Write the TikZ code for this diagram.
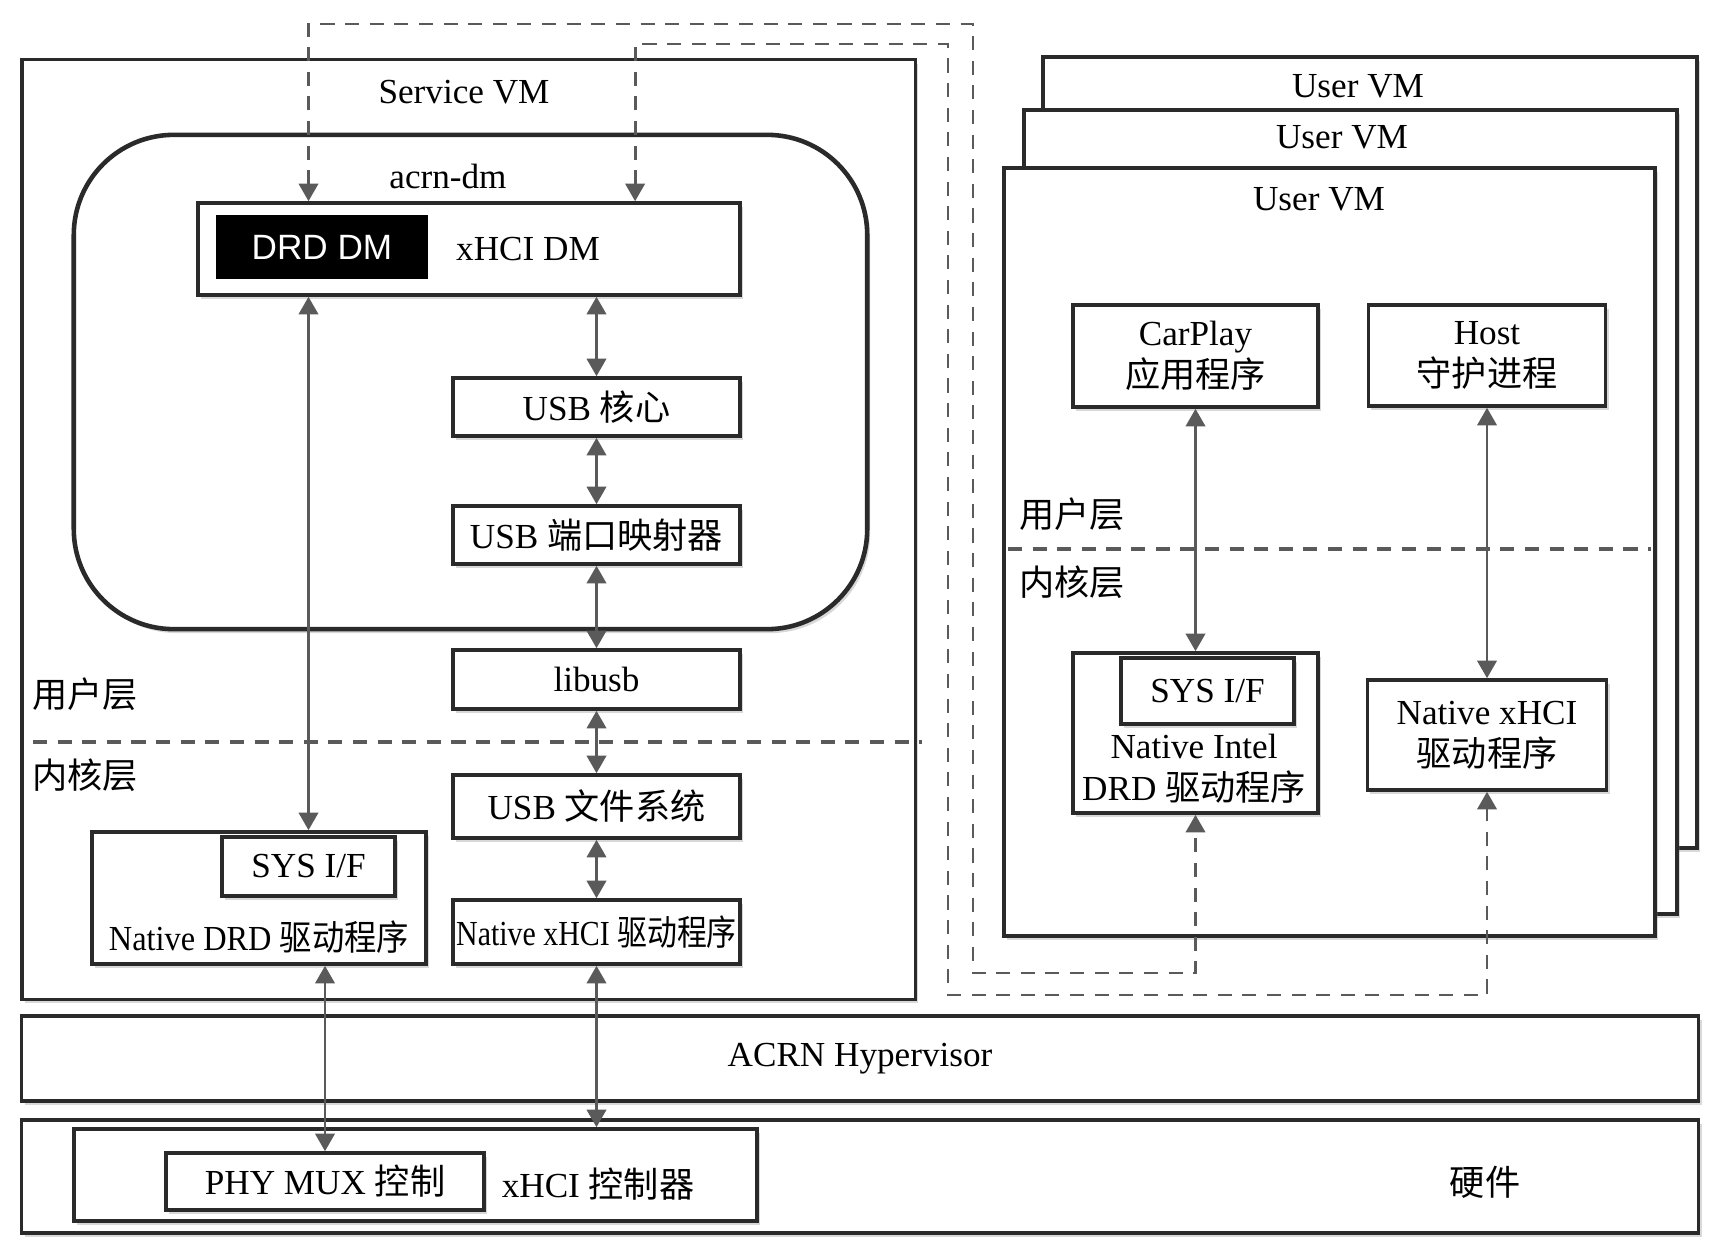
\documentclass[tikz,border=0pt]{standalone}
\usepackage{fontspec}
\setmainfont{Liberation Serif}
\newfontfamily\cjk{Noto Sans CJK SC}
\newfontfamily\sansfont{Liberation Sans}
\usepackage{xcolor}
\usepackage{graphicx}
\usepackage{tikz}
\usetikzlibrary{shapes, arrows, arrows.meta, positioning, shadows}

\definecolor{linegray}{HTML}{5A5A5A}
\definecolor{boxgray}{HTML}{2A2A2A}

\begin{document}
\begin{tikzpicture}[x=0.01cm, y=-0.01cm]
\tikzstyle{block} = [rectangle, draw=boxgray, line width=1pt, fill=white, inner sep=0pt, drop shadow={shadow xshift=0.03cm, shadow yshift=-0.04cm, opacity=0.3}]
\tikzstyle{arrow} = [linegray, line width=0.8pt, <->, >={Triangle[length=5pt, width=5.5pt]}]
\tikzstyle{dasharrow} = [linegray, line width=0.8pt, dash pattern=on 4pt off 3pt, <->, >={Triangle[length=5pt, width=5.5pt]}]
\tikzstyle{layerline} = [linegray, line width=1pt, dash pattern=on 4pt off 3pt]

\useasboundingbox (0,0) rectangle (1722,1255);

% Service VM
\node (svm) [block, minimum width=8.93cm, minimum height=9.39cm] at (468.5,529.5) {};
\node (svmtext) at (464,92) {Service VM};
\node (acrndm) [block, line width=1.3pt, rounded corners=1cm, minimum width=7.93cm, minimum height=4.94cm] at (470.5,382) {};
\node (dmtext) at (448,176) {acrn-dm};
\node (xhcidm) [block, minimum width=5.42cm, minimum height=0.92cm] at (469,249) {};
\node (drddm) [rectangle, fill=black, text=white, font=\sansfont, minimum width=2.12cm, minimum height=0.64cm] at (322,247) {DRD DM};
\node (xhcitext) at (528,249) {xHCI DM};
\node (core) [block, minimum width=2.87cm, minimum height=0.58cm] at (596.5,407) {USB {\cjk 核心}};
\node (portmap) [block, minimum width=2.87cm, minimum height=0.58cm] at (596.5,535) {USB {\cjk 端口映射器}};
\node (libusb) [block, minimum width=2.87cm, minimum height=0.59cm] at (596.5,679.5) {libusb};
\node (usbfs) [block, minimum width=2.87cm, minimum height=0.63cm] at (596.5,806.5) {USB {\cjk 文件系统}};
\node (nxhci) [block, minimum width=2.87cm, minimum height=0.64cm] at (596.5,932) {\scalebox{0.85}[1]{Native xHCI {\cjk 驱动程序}}};
\node (ndrd) [block, minimum width=3.34cm, minimum height=1.32cm] at (259,898) {};
\node (sysif) [block, minimum width=1.73cm, minimum height=0.59cm] at (308.5,866.5) {SYS I/F};
\node (ndrdtext) at (259,937) {\scalebox{0.92}[1]{Native DRD {\cjk 驱动程序}}};

\node (userl) at (85,694) {\cjk 用户层};
\node (kernl) at (85,775) {\cjk 内核层};
\coordinate (lsplitw) at (33,742);
\coordinate (lsplite) at (922,742);
\draw [layerline] (lsplitw) -- (lsplite);

% hypervisor and hardware
\node (hyp) [block, minimum width=16.76cm, minimum height=0.85cm] at (860,1058.5) {ACRN Hypervisor};
\node (hw) [block, minimum width=16.76cm, minimum height=1.13cm] at (860,1176.5) {};
\node (hwtext) at (1485,1182) {\cjk 硬件};
\node (xhcictl) [block, minimum width=6.83cm, minimum height=0.92cm] at (415.5,1175) {};
\node (phymux) [block, minimum width=3.18cm, minimum height=0.57cm] at (325,1181.5) {PHY MUX {\cjk 控制}};
\node (ctltext) at (598,1184) {xHCI {\cjk 控制器}};

% User VM stack
\node (uvmc) [block, minimum width=6.54cm, minimum height=7.91cm] at (1370,452.5) {};
\node (uvmctext) at (1358,86) {User VM};
\node (uvmb) [block, minimum width=6.53cm, minimum height=8.04cm] at (1350.5,512) {};
\node (uvmbtext) at (1342,137) {User VM};
\node (uvma) [block, minimum width=6.51cm, minimum height=7.68cm] at (1329.5,552) {};
\node (uvmatext) at (1319,199) {User VM};

\node (carplay) [block, align=center, minimum width=2.45cm, minimum height=1.02cm] at (1195.5,356) {CarPlay\\{\cjk 应用程序}};
\node (host) [block, align=center, minimum width=2.37cm, minimum height=1.01cm] at (1487,355.5) {Host\\{\cjk 守护进程}};
\node (userr) at (1072,514) {\cjk 用户层};
\node (kernr) at (1072,582) {\cjk 内核层};
\coordinate (rsplitw) at (1008,549);
\coordinate (rsplite) at (1651,549);
\draw [layerline] (rsplitw) -- (rsplite);
\node (nidrd) [block, minimum width=2.45cm, minimum height=1.60cm] at (1195.5,733) {};
\node (sysif2) [block, minimum width=1.73cm, minimum height=0.66cm] at (1207.5,691) {SYS I/F};
\node (nidrdtext) [align=center] at (1194,769) {Native Intel\\DRD {\cjk 驱动程序}};
\node (nxhci2) [block, align=center, minimum width=2.39cm, minimum height=1.10cm] at (1487,735) {Native xHCI\\{\cjk 驱动程序}};

% solid links
\draw [arrow] (xhcidm.south -| sysif.north) -- (ndrd.north -| sysif.north);
\draw [arrow] (ndrd.south -| phymux.north) -- (phymux.north);
\draw [arrow] (xhcidm.south -| core.north) -- (core.north);
\draw [arrow] (core.south) -- (portmap.north);
\draw [arrow] (portmap.south) -- (libusb.north);
\draw [arrow] (libusb.south) -- (usbfs.north);
\draw [arrow] (usbfs.south) -- (nxhci.north);
\draw [arrow] (nxhci.south) -- (xhcictl.north -| nxhci.south);
\draw [arrow] (carplay.south) -- (nidrd.north);
\draw [arrow] (host.south) -- (nxhci2.north);

% passthrough paths
\coordinate (drdbend) at (973,24);
\coordinate (drdfoot) at (973,973);
\draw [dasharrow] (xhcidm.north -| sysif.north) |- (drdbend) |- (drdfoot -| nidrd.south) -- (nidrd.south);
\coordinate (xhcibend) at (948,44);
\coordinate (xhcifoot) at (948,995);
\draw [dasharrow] ([xshift=1.66cm]xhcidm.north) |- (xhcibend) |- (xhcifoot -| nxhci2.south) -- (nxhci2.south);

\end{tikzpicture}
\end{document}
